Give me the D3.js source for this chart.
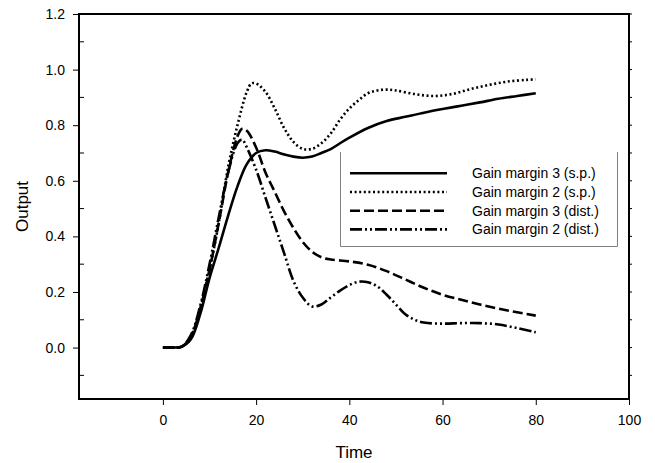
<!DOCTYPE html>
<html>
<head>
<meta charset="utf-8">
<script src="https://d3js.org/d3.v7.min.js"></script>
<style>
  body { margin: 0; background: #fff; }
  text { font-family: "Liberation Sans", Arial, sans-serif; fill: #000; }
</style>
</head>
<body>
<svg id="chart" width="655" height="463"></svg>
<script>

// time samples and outputs
const tSp3 = [0, 2, 4, 6, 8, 10, 12, 14, 16, 18, 20, 22, 24, 26, 28, 30, 32, 34, 36, 38, 40, 44, 48, 52, 56, 60, 64, 68, 72, 76, 80]
const gm3sp = [0, 0, 0.003, 0.03, 0.12, 0.25, 0.36, 0.475, 0.58, 0.66, 0.7, 0.71, 0.705, 0.695, 0.687, 0.683, 0.687, 0.7, 0.714, 0.735, 0.755, 0.79, 0.815, 0.83, 0.845, 0.858, 0.87, 0.882, 0.895, 0.905, 0.915]

const tSp2 = [0, 2, 4, 6, 8, 10, 12, 14, 16, 18, 19, 20, 22, 24, 26, 28, 30, 32, 34, 36, 38, 40, 42, 44, 46, 48, 50, 54, 58, 62, 66, 70, 74, 78, 80]
const gm2sp = [0, 0, 0.003, 0.04, 0.14, 0.28, 0.45, 0.65, 0.8, 0.92, 0.95, 0.95, 0.92, 0.86, 0.79, 0.74, 0.715, 0.715, 0.735, 0.77, 0.82, 0.86, 0.89, 0.915, 0.925, 0.928, 0.925, 0.912, 0.905, 0.912, 0.93, 0.945, 0.957, 0.963, 0.965]

const tD3 = [0, 2, 4, 6, 8, 10, 12, 14, 16, 17, 18, 20, 22, 24, 26, 28, 30, 32, 34, 36, 40, 44, 48, 52, 56, 60, 64, 68, 72, 76, 80]
const gm3dist = [0, 0, 0.003, 0.04, 0.14, 0.28, 0.45, 0.63, 0.76, 0.787, 0.78, 0.72, 0.63, 0.56, 0.49, 0.43, 0.38, 0.345, 0.325, 0.317, 0.31, 0.298, 0.275, 0.245, 0.215, 0.19, 0.172, 0.155, 0.14, 0.127, 0.115]

const tD2 = [0, 2, 4, 6, 8, 10, 12, 14, 16, 17, 18, 20, 22, 24, 26, 28, 30, 32, 34, 36, 38, 40, 42, 44, 46, 48, 50, 52, 54, 56, 60, 64, 68, 72, 76, 80]
const gm2dist = [0, 0, 0.003, 0.045, 0.15, 0.3, 0.47, 0.63, 0.735, 0.748, 0.72, 0.64, 0.54, 0.44, 0.34, 0.24, 0.18, 0.148, 0.155, 0.18, 0.205, 0.225, 0.237, 0.235, 0.22, 0.19, 0.155, 0.12, 0.1, 0.09, 0.086, 0.088, 0.088, 0.083, 0.07, 0.055]

const seriesNames = ['Gain margin 3 (s.p.)', 'Gain margin 2 (s.p.)', 'Gain margin 3 (dist.)', 'Gain margin 2 (dist.)']
const xTicks = [0, 20, 40, 60, 80, 100]
const yTicks = [0, 0.2, 0.4, 0.6, 0.8, 1.0, 1.2]
const yMinor = [-0.1, 0.1, 0.3, 0.5, 0.7, 0.9, 1.1]

const dashes = [null, '2,2.6', '10,4', '12,3,2,3,2,3']

const series = [
  {name: seriesNames[0], t: tSp3, v: gm3sp, dash: dashes[0]},
  {name: seriesNames[1], t: tSp2, v: gm2sp, dash: dashes[1]},
  {name: seriesNames[2], t: tD3, v: gm3dist, dash: dashes[2]},
  {name: seriesNames[3], t: tD2, v: gm2dist, dash: dashes[3]}
]

const plotL = 79, plotR = 629, plotT = 14, plotB = 399

const svg = d3.select('#chart')

const x = d3.scaleLinear().domain([-18, 100]).range([plotL, plotR])
const y = d3.scaleLinear().domain([-0.185, 1.2]).range([plotB, plotT])

// axes
svg.append('g')
  .attr('transform', `translate(0,${plotB})`)
  .call(d3.axisBottom(x).tickValues(xTicks).tickFormat(d3.format('d')).tickSize(6).tickPadding(10))
  .call(g => g.select('.domain').remove())
  .call(g => g.selectAll('text').style('font-size', '14px'))

svg.append('g')
  .attr('transform', `translate(${plotL},0)`)
  .call(d3.axisLeft(y).tickValues(yTicks).tickFormat(d3.format('.1f')).tickSize(6).tickPadding(8))
  .call(g => g.select('.domain').remove())
  .call(g => g.selectAll('text').style('font-size', '14px'))

// minor ticks inside the frame
svg.append('g')
  .selectAll('line')
  .data(yMinor)
  .join('line')
    .attr('x1', plotL).attr('x2', plotL + 5)
    .attr('y1', d => y(d)).attr('y2', d => y(d))
    .attr('stroke', '#000')

svg.append('g')
  .selectAll('line')
  .data(yTicks.concat(yMinor))
  .join('line')
    .attr('x1', plotR).attr('x2', plotR + 3)
    .attr('y1', d => y(d)).attr('y2', d => y(d))
    .attr('stroke', '#000')

// frame
svg.append('rect')
  .attr('x', plotL).attr('y', plotT)
  .attr('width', plotR - plotL).attr('height', plotB - plotT)
  .attr('fill', 'none')
  .attr('stroke', '#000')
  .attr('stroke-width', 2)

// curves
const line = d3.line()
  .x(d => x(d[0]))
  .y(d => y(d[1]))
  .curve(d3.curveCatmullRom.alpha(0.5))

svg.append('g')
  .selectAll('path')
  .data(series)
  .join('path')
    .attr('d', d => line(d.t.map((t, i) => [t, d.v[i]])))
    .attr('fill', 'none')
    .attr('stroke', '#000')
    .attr('stroke-width', 2.6)
    .attr('stroke-dasharray', d => d.dash)

// legend
const lg = svg.append('g')
lg.append('rect')
  .attr('x', 340).attr('y', 152).attr('width', 278).attr('height', 95)
  .attr('fill', '#fff')
lg.append('path')
  .attr('d', 'M340.5,152V246.5H617.5V152')
  .attr('fill', 'none')
  .attr('stroke', '#808080')
  .attr('stroke-width', 1)

const rows = lg.selectAll('g.row')
  .data(series)
  .join('g')
    .attr('class', 'row')
    .attr('transform', (d, i) => `translate(0,${173.3 + i * 18.7})`)

rows.append('line')
  .attr('x1', 350).attr('x2', 447)
  .attr('stroke', '#000')
  .attr('stroke-width', 2.6)
  .attr('stroke-dasharray', d => d.dash)

rows.append('text')
  .attr('x', 472)
  .attr('dy', '0.35em')
  .style('font-size', '14px')
  .text(d => d.name)

// axis titles
svg.append('text')
  .attr('x', (plotL + plotR) / 2)
  .attr('y', 458)
  .attr('text-anchor', 'middle')
  .style('font-size', '17px')
  .text('Time')

svg.append('text')
  .attr('transform', `translate(28,${(plotT + plotB) / 2}) rotate(-90)`)
  .attr('text-anchor', 'middle')
  .style('font-size', '17px')
  .text('Output')

</script>
</body>
</html>
